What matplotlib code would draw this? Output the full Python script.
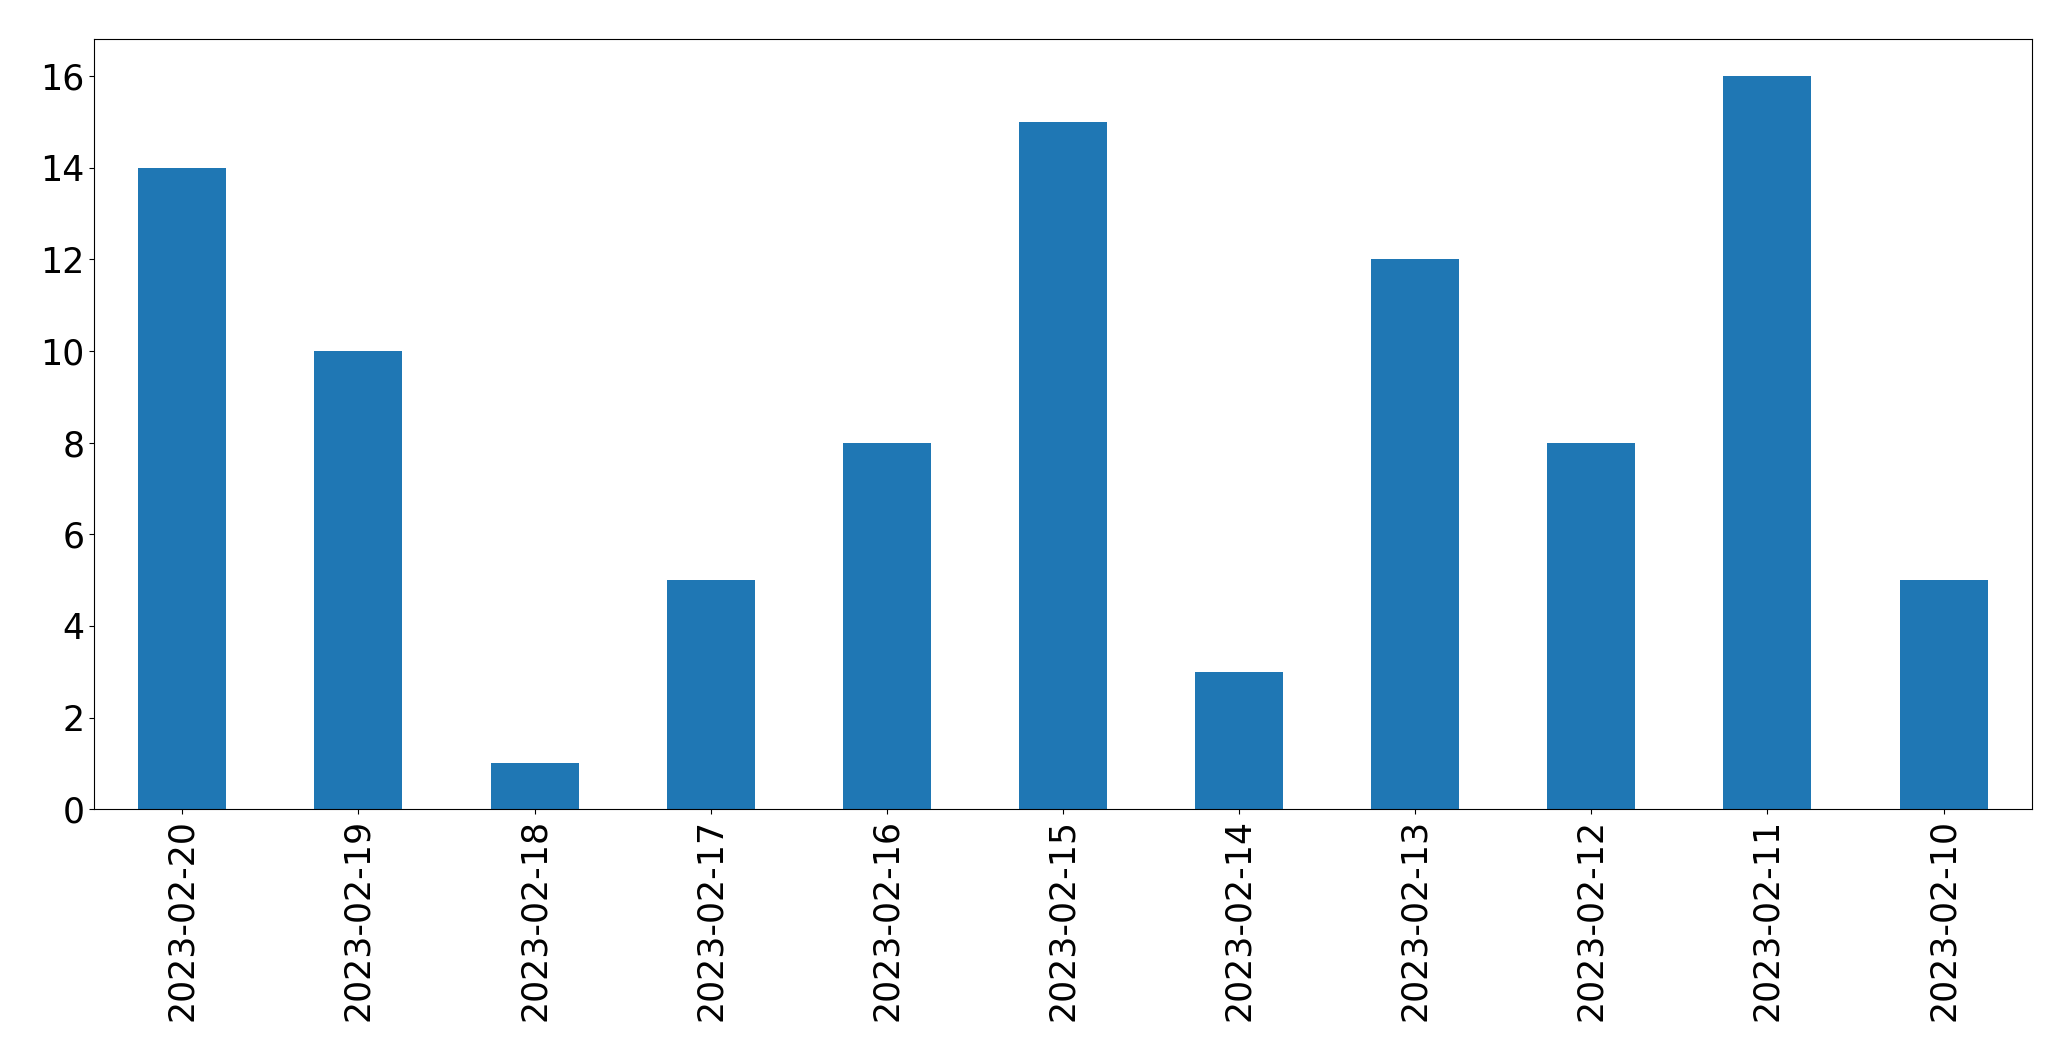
import matplotlib
matplotlib.use("Agg")
import matplotlib.pyplot as plt

dates = ["2023-02-20", "2023-02-19", "2023-02-18", "2023-02-17", "2023-02-16",
         "2023-02-15", "2023-02-14", "2023-02-13", "2023-02-12", "2023-02-11", "2023-02-10"]
counts = [14, 10, 1, 5, 8, 15, 3, 12, 8, 16, 5]

fig = plt.figure(figsize=(20.71, 10.61), dpi=100)
ax = fig.add_axes([0.0455, 0.2372, 0.9355, 0.7258])
x = range(len(dates))
ax.bar(x, counts, width=0.5, color="#1f77b4")
ax.set_xticks(list(x))
ax.set_xticklabels(dates, rotation=90)
ax.set_xlim(-0.5, len(dates) - 0.5)
ax.tick_params(labelsize=25)
fig.savefig("out.png", dpi=100)
